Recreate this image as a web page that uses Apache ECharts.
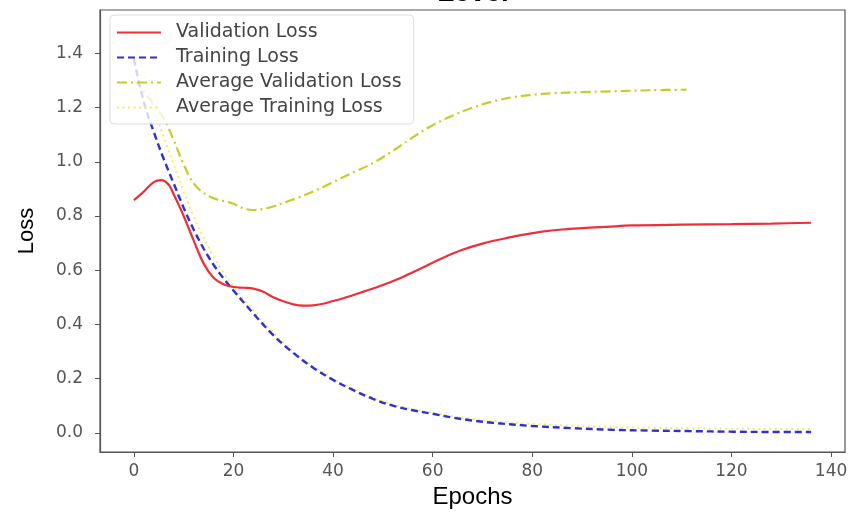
<!DOCTYPE html>
<html>
<head>
<meta charset="utf-8">
<script src="https://cdn.jsdelivr.net/npm/echarts@6/dist/echarts.min.js"></script>
<style>
  html, body { margin: 0; padding: 0; background: #fff; }
  #chart { width: 863px; height: 515px; }
</style>
</head>
<body>
<div id="chart"></div>
<script>
// Loss curves per epoch
const trainEpochs = [0, 2, 4, 6, 8, 10, 12, 14, 16, 18, 20, 24, 28, 32, 36, 40, 44, 48, 52, 56, 60, 64, 68, 72, 80, 88, 96, 104, 112, 120, 128, 136];
const trainingLoss = [1.38, 1.22, 1.11, 1.01, 0.92, 0.83, 0.75, 0.68, 0.62, 0.57, 0.525, 0.44, 0.36, 0.295, 0.24, 0.195, 0.158, 0.125, 0.10, 0.083, 0.07, 0.056, 0.045, 0.037, 0.025, 0.017, 0.011, 0.008, 0.006, 0.004, 0.003, 0.003];
const avgTrainingLoss = [1.47, 1.33, 1.20, 1.09, 0.99, 0.89, 0.80, 0.72, 0.65, 0.59, 0.54, 0.45, 0.37, 0.30, 0.245, 0.20, 0.162, 0.13, 0.105, 0.087, 0.073, 0.061, 0.051, 0.043, 0.033, 0.026, 0.021, 0.018, 0.016, 0.015, 0.014, 0.014];

const valEpochs = [0, 2, 4, 5.5, 7, 8, 10, 12, 14, 16, 18, 20, 22, 24, 26, 28, 30, 32, 34, 36, 38, 40, 43, 46, 50, 54, 58, 62, 66, 70, 74, 78, 82, 86, 90, 95, 100, 110, 120, 128, 136];
const validationLoss = [0.858, 0.89, 0.925, 0.932, 0.915, 0.88, 0.80, 0.71, 0.625, 0.572, 0.548, 0.538, 0.535, 0.532, 0.52, 0.50, 0.485, 0.474, 0.469, 0.470, 0.476, 0.486, 0.502, 0.52, 0.545, 0.575, 0.61, 0.645, 0.675, 0.698, 0.715, 0.73, 0.742, 0.75, 0.755, 0.76, 0.765, 0.768, 0.77, 0.772, 0.775];

const avgValEpochs = [0, 2, 4, 6, 8, 10, 12, 14, 16, 18, 20, 22, 24, 26, 28, 30, 33, 36, 40, 44, 48, 52, 56, 60, 64, 68, 72, 76, 80, 84, 90, 96, 104, 111];
const avgValidationLoss = [1.30, 1.26, 1.21, 1.16, 1.08, 0.99, 0.92, 0.885, 0.865, 0.855, 0.845, 0.828, 0.822, 0.826, 0.835, 0.848, 0.868, 0.89, 0.925, 0.96, 0.995, 1.04, 1.09, 1.135, 1.17, 1.20, 1.222, 1.238, 1.247, 1.253, 1.257, 1.26, 1.264, 1.266];

const xTicks = [0, 20, 40, 60, 80, 100, 120, 140];
const yTicks = [0, 0.2, 0.4, 0.6, 0.8, 1.0, 1.2, 1.4];

const pairs = (xs, ys) => xs.map((x, i) => [x, ys[i]]);

const chart = echarts.init(document.getElementById('chart'), null, { renderer: 'canvas' });

const tickFont = { color: '#555', fontSize: 17, fontFamily: 'DejaVu Sans' };

chart.setOption({
  animation: false,
  backgroundColor: '#fff',
  title: {
    text: 'Level',
    left: 468,
    top: -26,
    textAlign: 'center',
    textStyle: { fontSize: 28, fontWeight: 'bold', color: '#000', fontFamily: 'Liberation Sans' }
  },
  grid: {
    left: 100, right: 18, top: 10, bottom: 63,
    show: true, borderColor: '#555', borderWidth: 1.2, backgroundColor: 'transparent'
  },
  legend: {
    orient: 'vertical',
    left: 110, top: 15,
    padding: [8, 12, 7, 6],
    itemWidth: 44, itemHeight: 14, itemGap: 6,
    backgroundColor: 'rgba(255,255,255,0.8)',
    borderColor: '#ddd', borderWidth: 1, borderRadius: 4,
    itemStyle: { color: 'transparent', borderWidth: 0, opacity: 0 },
    textStyle: { color: '#444', fontSize: 19, fontFamily: 'DejaVu Sans', padding: [0, 0, 0, 10] },
    data: ['Validation Loss', 'Training Loss', 'Average Validation Loss', 'Average Training Loss']
  },
  xAxis: {
    type: 'value',
    min: -6.8, max: 142.8,
    name: 'Epochs', nameLocation: 'middle', nameGap: 32,
    nameTextStyle: { fontSize: 24, color: '#000', fontFamily: 'Liberation Sans' },
    axisLine: { show: true, onZero: false, lineStyle: { color: '#555', width: 1.2 } },
    axisTick: { show: true, inside: false, length: 5, lineStyle: { color: '#555' }, customValues: xTicks },
    axisLabel: { ...tickFont, margin: 11, customValues: xTicks },
    splitLine: { show: false }
  },
  yAxis: {
    type: 'value',
    min: -0.071, max: 1.56,
    name: 'Loss', nameLocation: 'middle', nameGap: 62,
    nameTextStyle: { fontSize: 22, color: '#000', fontFamily: 'Liberation Sans' },
    axisLine: { show: true, onZero: false, lineStyle: { color: '#555', width: 1.2 } },
    axisTick: { show: true, inside: false, length: 5, lineStyle: { color: '#555' }, customValues: yTicks },
    axisLabel: { ...tickFont, margin: 17, customValues: yTicks, formatter: v => v.toFixed(1) },
    splitLine: { show: false }
  },
  series: [
    {
      name: 'Validation Loss', type: 'line', smooth: 0.35, symbol: 'none', z: 4,
      data: pairs(valEpochs, validationLoss),
      lineStyle: { color: '#ef2e3a', width: 2.2, type: 'solid' },
      itemStyle: { color: '#ef2e3a' }
    },
    {
      name: 'Training Loss', type: 'line', smooth: 0.35, symbol: 'none', z: 3,
      data: pairs(trainEpochs, trainingLoss),
      lineStyle: { color: '#2f2fd8', width: 2.4, type: [7, 4] },
      itemStyle: { color: '#2f2fd8' }
    },
    {
      name: 'Average Validation Loss', type: 'line', smooth: 0.35, symbol: 'none', z: 2,
      data: pairs(avgValEpochs, avgValidationLoss),
      lineStyle: { color: '#c6cc2c', width: 2.2, type: [10, 4, 2, 4] },
      itemStyle: { color: '#c6cc2c' }
    },
    {
      name: 'Average Training Loss', type: 'line', smooth: 0.35, symbol: 'none', z: 1,
      data: pairs(trainEpochs, avgTrainingLoss),
      lineStyle: { color: '#eeee66', width: 2, type: [2, 3.5] },
      itemStyle: { color: '#eeee66' }
    }
  ]
});
</script>
</body>
</html>
